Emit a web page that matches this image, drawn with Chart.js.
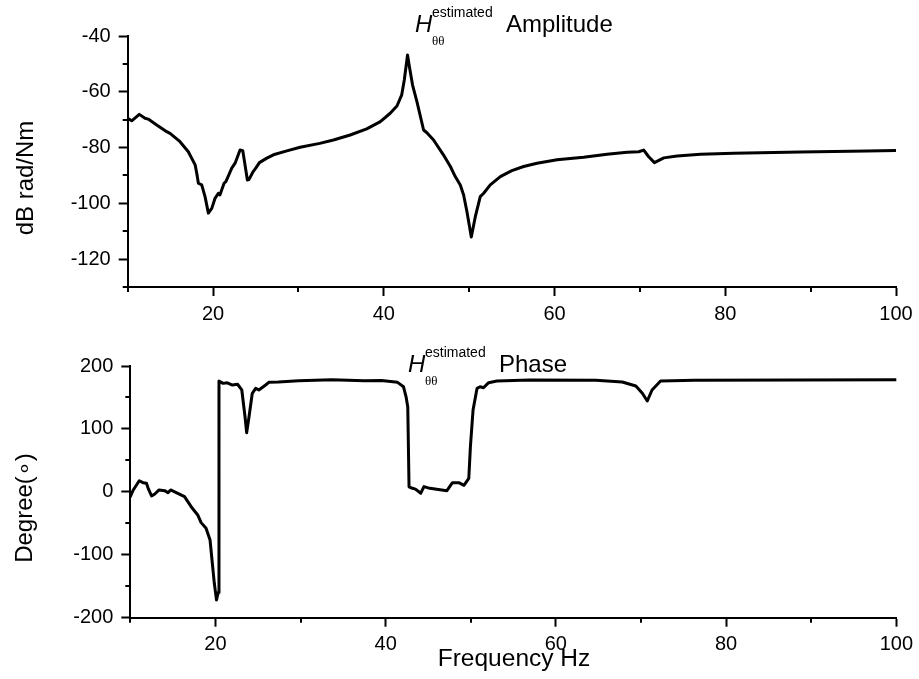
<!DOCTYPE html>
<html>
<head>
<meta charset="utf-8">
<script src="https://cdn.jsdelivr.net/npm/chart.js@4.4.1/dist/chart.umd.min.js"></script>
<style>
  html, body { margin: 0; padding: 0; background: #fff; }
  #wrap { position: relative; width: 919px; height: 679px; }
  #c1 { position: absolute; left: 0; top: 0; }
  #c2 { position: absolute; left: 0; top: 330px; }
</style>
</head>
<body>
<div id="wrap">
  <div id="c1" style="width:919px;height:330px"><canvas id="amp"></canvas></div>
  <div id="c2" style="width:919px;height:349px"><canvas id="phase"></canvas></div>
</div>
<script>
// ---------- data ----------
const ampFreq = [10,10.47,11.36,12.03,12.4,13.4,14.57,14.96,16.13,17.1,17.9,18.09,18.28,18.67,19.06,19.45,19.85,20.23,20.62,20.8,21.29,21.5,22.19,22.58,23.16,23.48,24.02,24.2,24.7,25.0,25.43,26.3,27.07,28.64,30.2,32.5,34.1,36.06,38.0,39.6,40.75,41.54,42.1,42.4,42.78,43.0,43.37,43.88,44.66,45.05,45.83,47.0,47.8,48.37,48.96,49.35,49.74,50.25,50.72,51.3,51.7,52.47,53.65,55.0,56.38,57.95,60.3,63.4,66.15,68.5,69.86,70.45,71.03,71.7,72.8,74.36,77.1,81,88.8,96.6,100];
const ampDb = [-69.5,-70.4,-68.1,-69.5,-69.8,-71.9,-74.3,-74.9,-77.9,-81.5,-86.2,-89.2,-92.8,-93.4,-97.6,-103.5,-101.8,-98.2,-96.4,-97,-92.8,-92.2,-87.4,-85.6,-80.9,-81.1,-91.6,-91.5,-88.6,-87.4,-85.4,-83.8,-82.6,-81.2,-79.9,-78.5,-77.3,-75.5,-73.3,-70.7,-67.7,-65.1,-61.1,-55.8,-46.8,-51,-57.6,-63.5,-73.7,-74.7,-77.3,-82.7,-86.8,-90.4,-93.4,-97,-103,-112.1,-104.8,-97.6,-96.4,-93.4,-90.4,-88.3,-86.8,-85.6,-84.4,-83.5,-82.4,-81.7,-81.5,-80.9,-83.3,-85.4,-83.7,-83,-82.4,-82,-81.6,-81.2,-81.1];

const phaseFreq = [10,10.35,11.05,11.5,11.9,12.1,12.5,12.88,13.38,14.04,14.43,14.74,15.4,16.37,17.15,17.92,18.32,18.9,19.37,19.6,19.87,20.13,20.33,20.42,20.9,21.4,22.0,22.6,23.1,23.48,23.67,23.95,24.33,24.73,25.1,25.9,26.27,27.4,29.77,33.65,37.5,39.5,41.4,42.1,42.4,42.6,42.75,42.97,43.5,44.13,44.5,45.2,47.2,47.85,48.6,49.2,49.77,49.96,50.27,50.74,51.1,51.5,52.1,53.07,56.95,64.7,67.8,69.4,70.16,70.74,71.3,72.3,76.3,88,100];
const phaseDeg = [-7.7,3.0,17.7,14.6,13.6,5.6,-6.6,-3.4,3.0,1.9,-1.3,3.0,-1.3,-7.6,-23.6,-36.7,-48.9,-57.9,-76.5,-108.3,-145.3,-171.8,-160,176,172.4,173.3,169.8,171,161.9,119.4,94,119.4,156.6,164.5,161.9,169.8,174,174.5,176.6,178.3,176.6,177,174,167,151,135,8,6.5,4.4,-2.2,8.4,5.6,1.9,14.6,14.6,10.4,21.5,71.8,130,164.5,167.1,165.5,173.5,176.2,177.8,177.5,174.6,168.2,156.6,144.4,161.9,176.2,177.5,177.8,178];

const xMajorTicks = [20, 40, 60, 80, 100];
const xMinorTicks = [10, 30, 50, 70, 90];
const ampMajorTicks = [-120, -100, -80, -60, -40];
const ampMinorTicks = [-130, -110, -90, -70, -50];
const phaseMajorTicks = [-200, -100, 0, 100, 200];
const phaseMinorTicks = [-150, -50, 50, 150];

// ---------- helpers ----------
const FONT = '"Liberation Sans", Arial, Helvetica, sans-serif';

const decor = {
  id: 'decor',
  afterDraw(chart, args, o) {
    const ctx = chart.ctx, xs = chart.scales.x, ys = chart.scales.y;
    ctx.save();
    ctx.strokeStyle = '#000';
    ctx.lineWidth = 2;
    o.xMinor.forEach(v => {
      const p = Math.round(xs.getPixelForValue(v));
      ctx.beginPath(); ctx.moveTo(p, xs.top); ctx.lineTo(p, xs.top + 5); ctx.stroke();
    });
    o.yMinor.forEach(v => {
      const p = Math.round(ys.getPixelForValue(v));
      ctx.beginPath(); ctx.moveTo(ys.right, p); ctx.lineTo(ys.right - 5, p); ctx.stroke();
    });
    ctx.fillStyle = '#000';
    const t = o.title;
    ctx.textBaseline = 'alphabetic';
    ctx.textAlign = 'left';
    ctx.font = 'italic 24px ' + FONT;
    ctx.fillText('H', t.x, t.y);
    ctx.font = '14px ' + FONT;
    ctx.fillText('estimated', t.x + 17, t.y - 15);
    ctx.font = '13px "Liberation Serif", "Times New Roman", serif';
    ctx.fillText('θθ', t.x + 17, t.y + 13);
    ctx.font = '24px ' + FONT;
    ctx.fillText(t.text, t.x + 91, t.y);
    ctx.save();
    ctx.translate(o.yTitle.x, o.yTitle.y);
    ctx.rotate(-Math.PI / 2);
    ctx.textAlign = 'center';
    ctx.font = '24px ' + FONT;
    ctx.fillText(o.yTitle.text, 0, 0);
    ctx.restore();
    if (o.xTitle) {
      ctx.textAlign = 'center';
      ctx.font = '24.5px ' + FONT;
      ctx.fillText(o.xTitle.text, o.xTitle.x, o.xTitle.y);
    }
    ctx.restore();
  }
};

function makeChart(id, xArr, yArr, yMin, yMax, yMajor, opts) {
  const pts = xArr.map((x, i) => ({ x: x, y: yArr[i] }));
  return new Chart(document.getElementById(id), {
    type: 'line',
    data: {
      datasets: [{
        data: pts,
        borderColor: '#000',
        borderWidth: 3,
        pointRadius: 0,
        tension: 0,
        fill: false,
        borderJoinStyle: 'round',
        borderCapStyle: 'round'
      }]
    },
    options: {
      responsive: true,
      maintainAspectRatio: false,
      animation: false,
      events: [],
      layout: { padding: opts.padding },
      plugins: {
        legend: { display: false },
        tooltip: { enabled: false },
        title: { display: false },
        decor: opts.decor
      },
      scales: {
        x: {
          type: 'linear',
          min: 10, max: 100,
          afterBuildTicks: s => { s.ticks = xMajorTicks.map(v => ({ value: v })); },
          afterFit: s => { s.height = opts.xHeight; },
          grid: { drawOnChartArea: false, drawTicks: true, tickLength: 9, tickWidth: 2, tickColor: '#000' },
          border: { display: true, color: '#000', width: 2 },
          ticks: { color: '#000', font: { family: FONT, size: 20 }, padding: 6, maxRotation: 0, autoSkip: false }
        },
        y: {
          type: 'linear',
          min: yMin, max: yMax,
          afterBuildTicks: s => { s.ticks = yMajor.map(v => ({ value: v })); },
          afterFit: s => { s.width = opts.yWidth; },
          grid: { drawOnChartArea: false, drawTicks: true, tickLength: 9, tickWidth: 2, tickColor: '#000' },
          border: { display: true, color: '#000', width: 2 },
          ticks: { color: '#000', font: { family: FONT, size: 20 }, padding: 8, autoSkip: false }
        }
      }
    },
    plugins: [decor]
  });
}

makeChart('amp', ampFreq, ampDb, -130, -40, ampMajorTicks, {
  padding: { top: 36, right: 23, left: 0, bottom: 0 },
  xHeight: 43, yWidth: 127.7,
  decor: {
    xMinor: xMinorTicks, yMinor: ampMinorTicks,
    title: { x: 415, y: 32, text: 'Amplitude' },
    yTitle: { x: 33, y: 178, text: 'dB rad/Nm' }
  }
});

makeChart('phase', phaseFreq, phaseDeg, -200, 200, phaseMajorTicks, {
  padding: { top: 36, right: 20.3, left: 0, bottom: 0 },
  xHeight: 61.3, yWidth: 130.3,
  decor: {
    xMinor: xMinorTicks, yMinor: phaseMinorTicks,
    title: { x: 408, y: 42, text: 'Phase' },
    yTitle: { x: 32, y: 178, text: 'Degree(∘)' },
    xTitle: { x: 514, y: 336, text: 'Frequency Hz' }
  }
});
</script>
</body>
</html>
